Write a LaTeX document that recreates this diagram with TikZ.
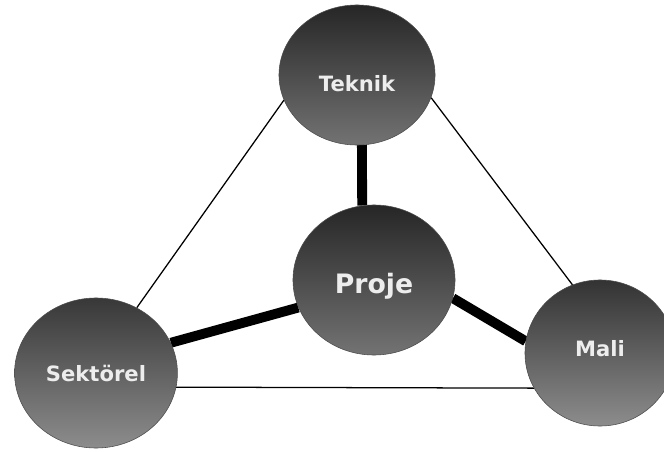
\documentclass[tikz,border=0pt]{standalone}
\usepackage{fontspec}
\setmainfont{DejaVu Sans}
\usetikzlibrary{shapes.geometric, backgrounds}
\tikzset{
  ball/.style={ellipse, draw=black!70, line width=0.4pt, top color=black!85, bottom color=black!55,
    text=black!7, font=\bfseries\fontsize{15}{17}\selectfont, inner sep=0pt},
  thinlink/.style={line width=0.9pt, black},
  thicklink/.style={line width=7pt, black},
}

\begin{document}
\begin{tikzpicture}[x=0.025cm, y=-0.025cm]
\useasboundingbox (0,0) rectangle (664,452);
\node[ball, minimum width=3.9cm, minimum height=3.5cm, text height=0.84cm] (teknik) at (357,75) {Teknik};
\node[ball, minimum width=4.05cm, minimum height=3.75cm, text height=0.8cm, font=\bfseries\fontsize{19}{22}\selectfont] (proje) at (374,280) {Proje};
\node[ball, minimum width=4.07cm, minimum height=3.75cm, top color=black!78, bottom color=black!45] (sektorel) at (96,373) {Sektörel};
\node[ball, minimum width=3.75cm, minimum height=3.65cm, text depth=0.25cm, top color=black!80, bottom color=black!45] (mali) at (600,353) {Mali};
\begin{scope}[on background layer]
% outer triangle
\draw[thinlink] (teknik.199) -- (sektorel.58);
\draw[thinlink] (teknik.343) -- (mali.112);
\draw[thinlink] (sektorel.350) -- (mali.208);
% spokes from the centre
\draw[thicklink] (teknik.-86) -- (proje.99);
\draw[thicklink] (proje.200) -- (sektorel.22);
\draw[thicklink] (proje.347) -- (mali.171);
\end{scope}
\end{tikzpicture}
\end{document}
